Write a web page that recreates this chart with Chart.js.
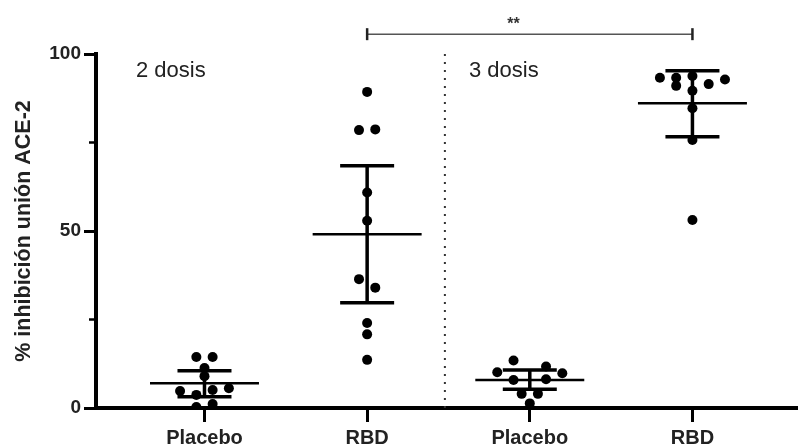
<!DOCTYPE html>
<html>
<head>
<meta charset="utf-8">
<script src="https://cdn.jsdelivr.net/npm/chart.js@4.4.1/dist/chart.umd.min.js"></script>
<style>
  html, body { margin: 0; padding: 0; background: #fff; }
  #wrap { width: 798px; height: 444px; }
</style>
</head>
<body>
<div id="wrap"><canvas id="chart"></canvas></div>
<script>
const categories = ['Placebo', 'RBD', 'Placebo', 'RBD'];

// individual values (% inhibition)
const placebo2 = [14.4, 14.4, 11.3, 9.0, 4.8, 3.7, 5.1, 5.6, 0.3, 1.1];
const rbd2     = [89.3, 78.5, 78.7, 60.9, 52.9, 36.4, 34.0, 24.0, 20.8, 13.6];
const placebo3 = [13.4, 10.1, 11.7, 9.8, 7.9, 8.1, 4.0, 4.0, 1.3];
const rbd3     = [93.3, 93.3, 91.0, 93.8, 89.6, 91.5, 92.8, 84.7, 75.7, 53.1];

// horizontal spread of the dots (beeswarm), in category units
const placebo2Spread = [-0.05, 0.05, 0, 0, -0.15, -0.05, 0.05, 0.15, -0.05, 0.05];
const rbd2Spread     = [0, -0.05, 0.05, 0, 0, -0.05, 0.05, 0, 0, 0];
const placebo3Spread = [-0.1, -0.2, 0.1, 0.2, -0.1, 0.1, -0.05, 0.05, 0];
const rbd3Spread     = [-0.2, -0.1, -0.1, 0, 0, 0.1, 0.2, 0, 0, 0];

// mean and error bar limits per group
const means = [7.0, 49.1, 7.9, 86.1];
const upper = [10.5, 68.4, 10.7, 95.3];
const lower = [3.2, 29.7, 5.3, 76.6];

const groups = [placebo2, rbd2, placebo3, rbd3];
const spreads = [placebo2Spread, rbd2Spread, placebo3Spread, rbd3Spread];

const FONT = "'Liberation Sans', Arial, sans-serif";
const meanHalf = 0.335;
const capHalf = 0.166;

const datasets = [];
groups.forEach((vals, i) => {
  const g = i + 1;
  datasets.push({
    data: vals.map((v, j) => ({ x: g + spreads[i][j], y: v })),
    pointRadius: 5,
    pointBackgroundColor: '#000',
    pointBorderWidth: 0,
    showLine: false
  });
});
groups.forEach((vals, i) => {
  const g = i + 1;
  datasets.push({
    data: [{ x: g - meanHalf, y: means[i] }, { x: g + meanHalf, y: means[i] }],
    showLine: true, borderColor: '#000', borderWidth: 2.5, pointRadius: 0
  });
  datasets.push({
    data: [
      { x: g - capHalf, y: lower[i] }, { x: g + capHalf, y: lower[i] }, { x: g, y: null },
      { x: g, y: lower[i] }, { x: g, y: upper[i] }, { x: g, y: null },
      { x: g - capHalf, y: upper[i] }, { x: g + capHalf, y: upper[i] }
    ],
    showLine: true, spanGaps: false, borderColor: '#000', borderWidth: 3.5, pointRadius: 0
  });
});
// dotted separator between 2 and 3 doses
datasets.push({
  data: [{ x: 2.478, y: 0 }, { x: 2.478, y: 100 }],
  showLine: true, borderColor: '#333', borderWidth: 2, borderDash: [2, 6], pointRadius: 0
});

const extras = {
  id: 'extras',
  afterDatasetsDraw(chart) {
    const { ctx, scales: { x, y } } = chart;
    ctx.save();
    // minor ticks
    ctx.strokeStyle = '#000';
    ctx.lineWidth = 2.5;
    [25, 75].forEach(v => {
      const py = y.getPixelForValue(v);
      ctx.beginPath(); ctx.moveTo(x.left - 7, py); ctx.lineTo(x.left, py); ctx.stroke();
    });
    // significance bracket
    const yb = y.getPixelForValue(105.6);
    const x1 = x.getPixelForValue(2), x2 = x.getPixelForValue(4);
    ctx.strokeStyle = '#555';
    ctx.lineWidth = 1.5;
    ctx.beginPath(); ctx.moveTo(x1, yb); ctx.lineTo(x2, yb); ctx.stroke();
    ctx.strokeStyle = '#222';
    ctx.lineWidth = 2.5;
    [x1, x2].forEach(px => {
      ctx.beginPath(); ctx.moveTo(px, yb - 6); ctx.lineTo(px, yb + 6); ctx.stroke();
    });
    ctx.fillStyle = '#333';
    ctx.font = 'bold 16px ' + FONT;
    ctx.textAlign = 'center';
    ctx.textBaseline = 'alphabetic';
    ctx.fillText('**', x.getPixelForValue(2.9), yb - 5);
    // dose labels
    ctx.fillStyle = '#222';
    ctx.font = '22px ' + FONT;
    ctx.textAlign = 'left';
    ctx.textBaseline = 'middle';
    ctx.fillText('2 dosis', x.getPixelForValue(0.579), y.getPixelForValue(95.3));
    ctx.fillText('3 dosis', x.getPixelForValue(2.626), y.getPixelForValue(95.3));
    ctx.restore();
  }
};

new Chart(document.getElementById('chart'), {
  type: 'scatter',
  data: { datasets },
  options: {
    responsive: true,
    maintainAspectRatio: false,
    animation: false,
    layout: { autoPadding: false, padding: { top: 54, right: 0, left: 0, bottom: 0 } },
    plugins: { legend: { display: false }, tooltip: { enabled: false } },
    scales: {
      x: {
        type: 'linear',
        min: 0.333,
        max: 4.649,
        afterBuildTicks: axis => { axis.ticks = [1, 2, 3, 4].map(value => ({ value })); },
        afterFit: s => { s.height = 36; },
        ticks: {
          autoSkip: false,
          maxRotation: 0,
          padding: 4,
          color: '#222',
          font: { family: FONT, size: 20, weight: 'bold' },
          callback: v => categories[v - 1] || ''
        },
        grid: { drawOnChartArea: false, tickLength: 14, tickWidth: 3, tickColor: '#000' },
        border: { color: '#000', width: 4 }
      },
      y: {
        min: 0,
        max: 100,
        afterFit: s => { s.width = 96; },
        ticks: {
          stepSize: 50,
          padding: 3,
          color: '#222',
          font: { family: FONT, size: 19, weight: 'bold' }
        },
        grid: { drawOnChartArea: false, tickLength: 12, tickWidth: 3, tickColor: '#000' },
        border: { color: '#000', width: 4 },
        title: {
          display: true,
          text: '% inhibición unión ACE-2',
          color: '#222',
          font: { family: FONT, size: 21.5, weight: 'bold' },
          padding: { top: 11, bottom: 0 }
        }
      }
    }
  },
  plugins: [extras]
});
</script>
</body>
</html>
